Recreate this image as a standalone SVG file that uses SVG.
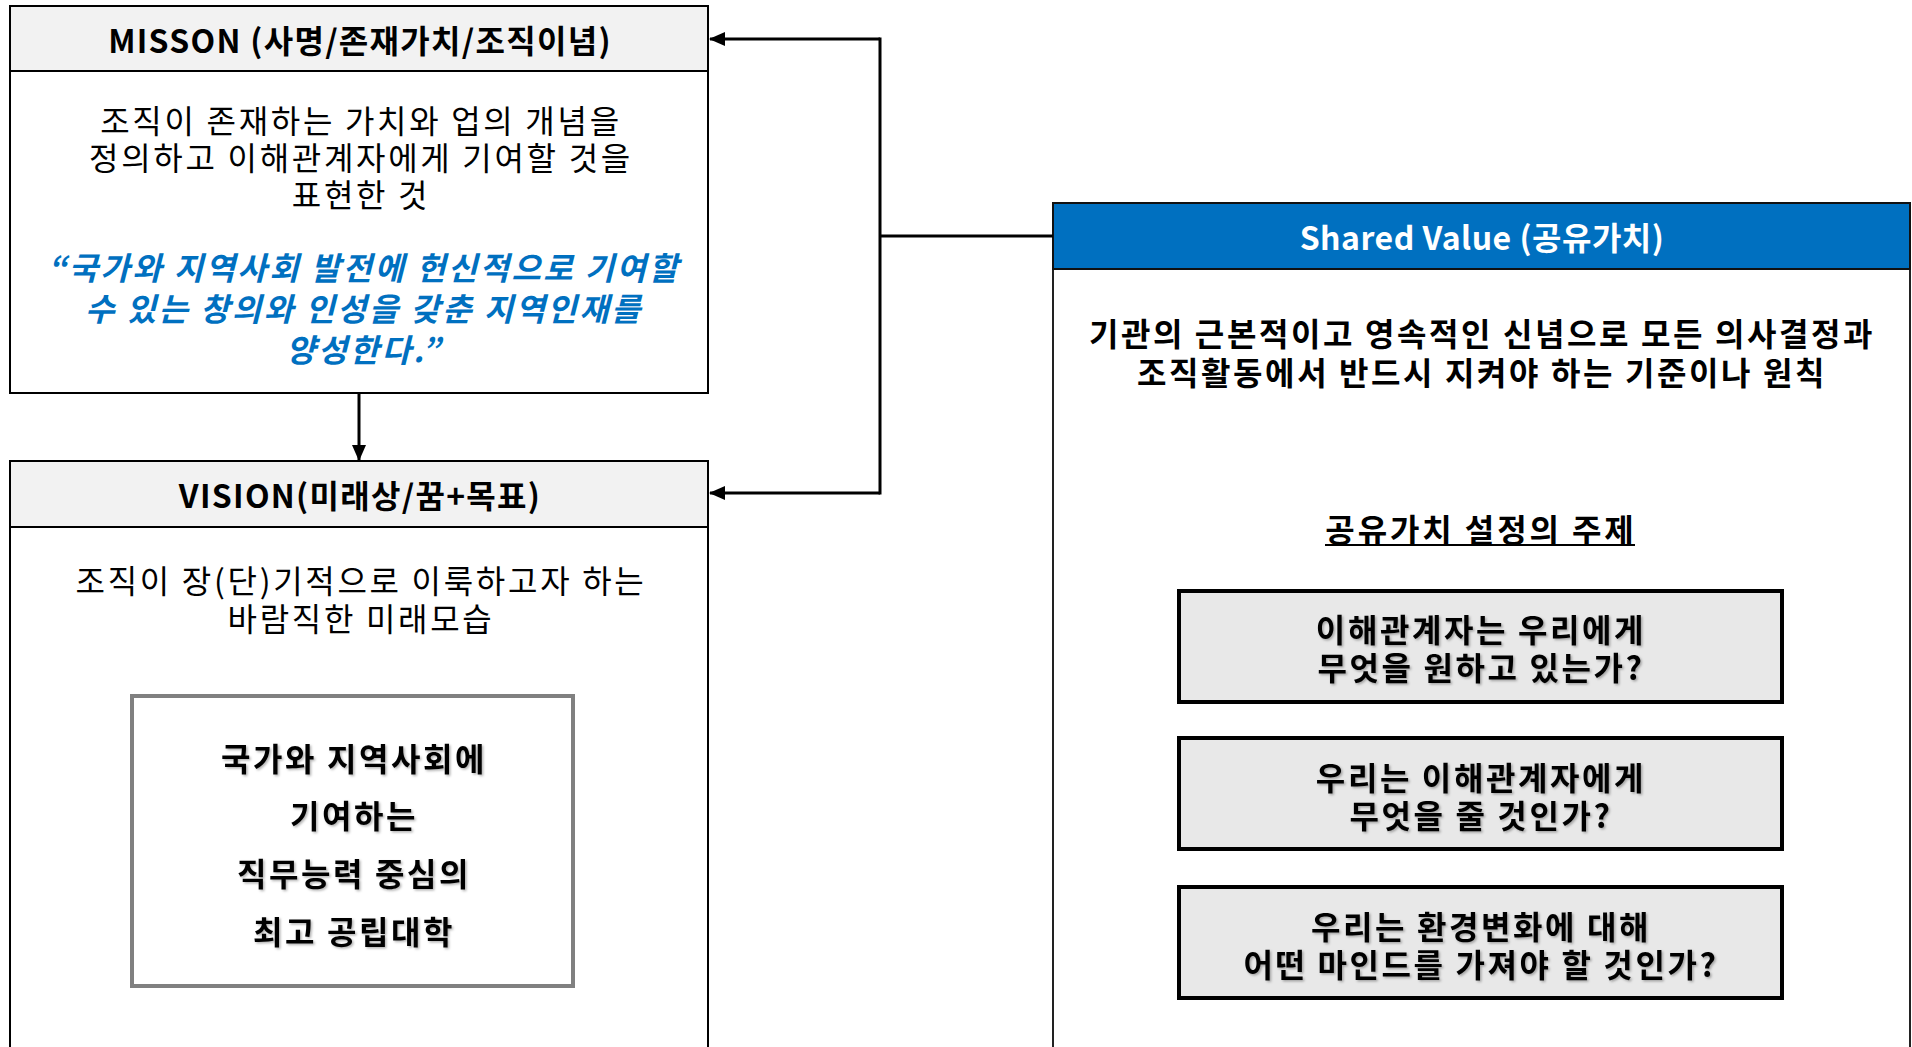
<svg xmlns="http://www.w3.org/2000/svg" width="1912" height="1047" viewBox="0 0 1912 1047">
<style>
text{font-family:"Noto Sans CJK KR","Malgun Gothic","Noto Sans",sans-serif;text-anchor:middle;dominant-baseline:central;font-size:32px}
.hdr{font-weight:700;fill:#000;letter-spacing:1.3px}
.body{fill:#000;letter-spacing:2.7px}
.blue{font-weight:700;font-style:italic;fill:#0070C0;letter-spacing:2.4px}
.bold{font-weight:700;fill:#000;letter-spacing:2.6px}
.frame{fill:#fff;stroke:#000;stroke-width:2}
.head{fill:#F2F2F2;stroke:#000;stroke-width:2}
.qbox{fill:#E8E8E8;stroke:#000;stroke-width:4}
.conn{fill:none;stroke:#000;stroke-width:3}
</style>
<defs>
<marker id="arr" markerWidth="16" markerHeight="14" refX="15" refY="7" orient="auto" markerUnits="userSpaceOnUse">
<path d="M0,0 L16,7 L0,14 Z" fill="#000"/>
</marker>
<filter id="sh" x="-10%" y="-30%" width="120%" height="160%">
<feDropShadow dx="1.5" dy="1.5" stdDeviation="1" flood-color="#000" flood-opacity="0.3"/>
</filter>
</defs>
<rect width="1912" height="1047" fill="#fff"/>

<g id="mission">
<rect class="frame" x="10" y="6" width="698" height="387"/>
<rect class="head" x="10" y="6" width="698" height="65"/>
<text class="hdr" x="360" y="39">MISSON (사명/존재가치/조직이념)</text>
<text class="body" x="361" y="119">조직이 존재하는 가치와 업의 개념을</text>
<text class="body" x="361" y="156">정의하고 이해관계자에게 기여할 것을</text>
<text class="body" x="361" y="193">표현한 것</text>
<text class="blue" x="364" y="266">“국가와 지역사회 발전에 헌신적으로 기여할</text>
<text class="blue" x="364" y="307">수 있는 창의와 인성을 갖춘 지역인재를</text>
<text class="blue" x="364" y="348">양성한다.”</text>
</g>

<g id="vision">
<rect class="frame" x="10" y="461" width="698" height="620"/>
<rect class="head" x="10" y="461" width="698" height="66"/>
<text class="hdr" x="360" y="494">VISION(미래상/꿈+목표)</text>
<text class="body" x="361" y="579">조직이 장(단)기적으로 이룩하고자 하는</text>
<text class="body" x="361" y="617">바람직한 미래모습</text>
<rect x="132" y="696" width="441" height="290" fill="#fff" stroke="#808080" stroke-width="4"/>
<g filter="url(#sh)">
<text class="bold" x="354" y="757">국가와 지역사회에</text>
<text class="bold" x="354" y="814">기여하는</text>
<text class="bold" x="354" y="872">직무능력 중심의</text>
<text class="bold" x="354" y="930">최고 공립대학</text>
</g>
</g>

<g id="shared-value">
<rect x="1053" y="203" width="857" height="880" fill="#fff" stroke="#222" stroke-width="2"/>
<rect x="1053" y="203" width="857" height="66" fill="#0070C0" stroke="#111" stroke-width="2"/>
<text class="hdr" x="1482" y="236" style="fill:#fff;letter-spacing:0.5px">Shared Value (공유가치)</text>
<text class="bold" x="1482" y="332">기관의 근본적이고 영속적인 신념으로 모든 의사결정과</text>
<text class="bold" x="1482" y="371">조직활동에서 반드시 지켜야 하는 기준이나 원칙</text>
<text class="bold" x="1481" y="528" style="letter-spacing:2.9px">공유가치 설정의 주제</text>
<line x1="1325" y1="545" x2="1635" y2="545" stroke="#000" stroke-width="2"/>
</g>

<g id="q1">
<rect class="qbox" x="1179" y="591" width="603" height="111"/>
<g filter="url(#sh)">
<text class="bold" x="1481" y="628">이해관계자는 우리에게</text>
<text class="bold" x="1481" y="666">무엇을 원하고 있는가?</text>
</g>
</g>
<g id="q2">
<rect class="qbox" x="1179" y="738" width="603" height="111"/>
<g filter="url(#sh)">
<text class="bold" x="1481" y="776">우리는 이해관계자에게</text>
<text class="bold" x="1481" y="814">무엇을 줄 것인가?</text>
</g>
</g>
<g id="q3">
<rect class="qbox" x="1179" y="887" width="603" height="111"/>
<g filter="url(#sh)">
<text class="bold" x="1481" y="925">우리는 환경변화에 대해</text>
<text class="bold" x="1481" y="963">어떤 마인드를 가져야 할 것인가?</text>
</g>
</g>

<g id="connectors">
<line class="conn" x1="359" y1="393" x2="359" y2="460" marker-end="url(#arr)"/>
<polyline class="conn" points="880,39 710,39" marker-end="url(#arr)"/>
<polyline class="conn" points="880,493 710,493" marker-end="url(#arr)"/>
<line class="conn" x1="880" y1="37.5" x2="880" y2="494.5"/>
<line class="conn" x1="880" y1="236" x2="1053" y2="236"/>
</g>
</svg>
